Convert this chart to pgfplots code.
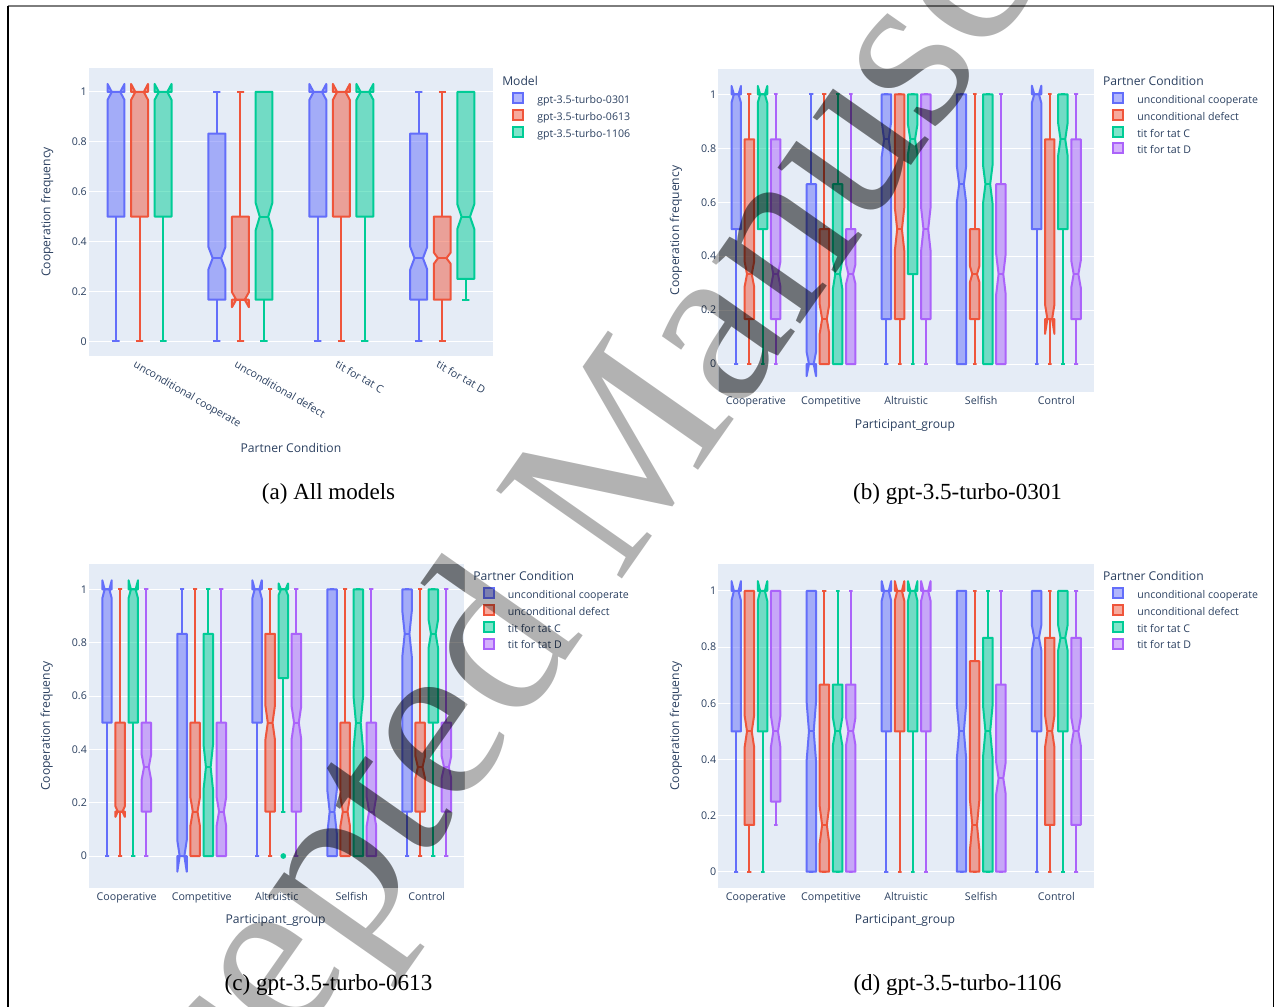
\documentclass[border=0pt]{standalone}
\usepackage{pgfplots}
\pgfplotsset{compat=1.18}
\usepackage{fontspec}
\setmainfont{Liberation Serif}
\newfontfamily\osans{Open Sans}

\definecolor{pblue}{HTML}{636EFA}
\definecolor{pred}{HTML}{EF553B}
\definecolor{pgreen}{HTML}{00CC96}
\definecolor{ppurple}{HTML}{AB63FA}
\definecolor{pbg}{HTML}{E5ECF6}
\definecolor{ptext}{HTML}{2A3F5F}

\def\bw{0.063}
% notched box: #1 x, #2 colour, #3 lower whisker, #4 q1, #5 median, #6 q3, #7 upper whisker, #8 notch half-span
\newcommand{\nbox}[8]{%
  \pgfmathsetmacro{\nbXc}{#1}%
  \pgfmathsetmacro{\nbXl}{\nbXc-\bw}%
  \pgfmathsetmacro{\nbXr}{\nbXc+\bw}%
  \pgfmathsetmacro{\nbXnl}{\nbXc-0.5*\bw}%
  \pgfmathsetmacro{\nbXnr}{\nbXc+0.5*\bw}%
  \pgfmathsetmacro{\nbXcl}{\nbXc-0.42*\bw}%
  \pgfmathsetmacro{\nbXcr}{\nbXc+0.42*\bw}%
  \pgfmathsetmacro{\nbNlo}{#5-#8}%
  \pgfmathsetmacro{\nbNhi}{#5+#8}%
  \edef\nbDo{%
    \noexpand\addplot[forget plot, draw=#2, fill=#2, fill opacity=0.5, line width=1.5pt, line join=round]
      coordinates {(\nbXl,#4) (\nbXl,\nbNlo) (\nbXnl,#5) (\nbXl,\nbNhi) (\nbXl,#6) (\nbXr,#6) (\nbXr,\nbNhi) (\nbXnr,#5) (\nbXr,\nbNlo) (\nbXr,#4)} -- cycle;
    \noexpand\addplot[forget plot, draw=#2, line width=1.5pt] coordinates {(\nbXnl,#5) (\nbXnr,#5)};
    \noexpand\addplot[forget plot, draw=#2, line width=1.5pt] coordinates {(\nbXcl,#3) (\nbXcr,#3) (\nbXc,#3) (\nbXc,#4)};
    \noexpand\addplot[forget plot, draw=#2, line width=1.5pt] coordinates {(\nbXcl,#7) (\nbXcr,#7) (\nbXc,#7) (\nbXc,#6)};
  }%
  \nbDo
}

\newcommand{\labfont}{\osans\fontsize{9.1}{11}\selectfont}
\pgfplotsset{
  legend image code/.code={\draw[#1, line width=1.5pt, fill opacity=0.5] (0pt,-2pt) rectangle (7.5pt,5.5pt);},
  pl/.style={
    scale only axis, clip=false,
    axis background/.style={fill=pbg},
    axis line style={draw=none},
    tick style={draw=none},
    ymajorgrids, grid style={white, line width=0.75pt},
    ytick={0,0.2,0.4,0.6,0.8,1},
    yticklabels={0,0.2,0.4,0.6,0.8,1},
    tick label style={font=\osans\fontsize{8}{9.6}\selectfont, text=ptext},
    yticklabel style={anchor=east, inner sep=0pt, xshift=-1.5pt},
    ylabel={Cooperation frequency},
    legend cell align=left,
    legend style={anchor=north west, draw=none, fill=none, inner sep=0pt, outer sep=0pt,
      row sep=2.6pt, column sep=9.6pt, font=\osans\fontsize{7.95}{9}\selectfont, text=ptext,
      nodes={inner sep=0pt}},
  },
  pg/.style={
    xmin=-0.5, xmax=4.5, xtick={0,1,2,3,4},
    xticklabels={Cooperative,Competitive,Altruistic,Selfish,Control},
    xticklabel style={anchor=base, inner sep=0pt, yshift=-9.2pt},
    xlabel={Participant\_group},
    every axis x label/.style={at={(axis description cs:0.497,-0.102)}, anchor=center, font=\labfont, text=ptext},
    every axis y label/.style={at={(axis description cs:-0.113,0.5)}, rotate=90, anchor=center, font=\labfont, text=ptext},
    legend style={at={(1.0495,0.929)}},
  },
}
\newcommand{\ttitle}[1]{\node[anchor=west, inner sep=0pt, font=\labfont, text=ptext] at (rel axis cs:1.0237,0.964) {#1};}
\newcommand{\pclegend}{%
  \addlegendimage{draw=pblue, fill=pblue}\addlegendentry{unconditional cooperate}
  \addlegendimage{draw=pred, fill=pred}\addlegendentry{unconditional defect}
  \addlegendimage{draw=pgreen, fill=pgreen}\addlegendentry{tit for tat C}
  \addlegendimage{draw=ppurple, fill=ppurple}\addlegendentry{tit for tat D}
  \ttitle{Partner Condition}}
\def\oa{-0.2625}\def\ob{-0.0875}\def\oc{0.0875}\def\od{0.2625}

\begin{document}
\begin{tikzpicture}
\path[use as bounding box] (0pt,0pt) rectangle (956.25pt,-755.25pt);

% ---------------- (a) All models
\def\bw{0.084}
\begin{axis}[pl, at={(66.83pt,-51pt)}, anchor=north west, width=302.7pt, height=215.8pt,
  xmin=-0.5, xmax=3.5, ymin=-0.058, ymax=1.096, xtick={0,1,2,3},
  xticklabels={unconditional cooperate, unconditional defect, tit for tat C, tit for tat D},
  xticklabel style={xshift=-2pt, yshift=-2.8pt, rotate=-30, anchor=north west, inner sep=0pt},
  xlabel={Partner Condition},
  every axis x label/.style={at={(axis description cs:0.5,-0.321)}, anchor=center, font=\labfont, text=ptext},
  every axis y label/.style={at={(axis description cs:-0.104,0.5)}, rotate=90, anchor=center, font=\labfont, text=ptext},
  legend style={at={(1.049,0.915)}}]
\nbox{0-0.2333}{pblue}{0}{0.5}{1}{1}{1}{0.032}
\nbox{1-0.2333}{pblue}{0}{0.1667}{0.3333}{0.8333}{1}{0.045}
\nbox{2-0.2333}{pblue}{0}{0.5}{1}{1}{1}{0.032}
\nbox{3-0.2333}{pblue}{0}{0.1667}{0.3333}{0.8333}{1}{0.045}
\nbox{0}{pred}{0}{0.5}{1}{1}{1}{0.032}
\nbox{1}{pred}{0}{0.1667}{0.1667}{0.5}{1}{0.03}
\nbox{2}{pred}{0}{0.5}{1}{1}{1}{0.032}
\nbox{3}{pred}{0}{0.1667}{0.3333}{0.5}{1}{0.023}
\nbox{0+0.2333}{pgreen}{0}{0.5}{1}{1}{1}{0.032}
\nbox{1+0.2333}{pgreen}{0}{0.1667}{0.5}{1}{1}{0.057}
\nbox{2+0.2333}{pgreen}{0}{0.5}{1}{1}{1}{0.032}
\nbox{3+0.2333}{pgreen}{0.1667}{0.25}{0.5}{1}{1}{0.05}
\addlegendimage{draw=pblue, fill=pblue}\addlegendentry{gpt-3.5-turbo-0301}
\addlegendimage{draw=pred, fill=pred}\addlegendentry{gpt-3.5-turbo-0613}
\addlegendimage{draw=pgreen, fill=pgreen}\addlegendentry{gpt-3.5-turbo-1106}
\node[anchor=west, inner sep=0pt, font=\labfont, text=ptext] at (rel axis cs:1.023,0.956) {Model};
\end{axis}

% ---------------- (b) gpt-3.5-turbo-0301
\def\bw{0.063}
\begin{axis}[pl, pg, at={(538.8pt,-51.75pt)}, anchor=north west, width=281.6pt, height=242.5pt,
  ymin=-0.105, ymax=1.094]
\nbox{0+\oa}{pblue}{0}{0.5}{1}{1}{1}{0.031}
\nbox{1+\oa}{pblue}{0}{0}{0}{0.6667}{1}{0.045}
\nbox{2+\oa}{pblue}{0}{0.1667}{0.8333}{1}{1}{0.065}
\nbox{3+\oa}{pblue}{0}{0}{0.6667}{1}{1}{0.07}
\nbox{4+\oa}{pblue}{0}{0.5}{1}{1}{1}{0.032}
\nbox{0+\ob}{pred}{0}{0.1667}{0.3333}{0.8333}{1}{0.046}
\nbox{1+\ob}{pred}{0}{0}{0.1667}{0.5}{1}{0.053}
\nbox{2+\ob}{pred}{0}{0.1667}{0.5}{1}{1}{0.08}
\nbox{3+\ob}{pred}{0}{0.1667}{0.3333}{0.5}{1}{0.03}
\nbox{4+\ob}{pred}{0}{0.1667}{0.1667}{0.8333}{1}{0.055}
\nbox{0+\oc}{pgreen}{0}{0.5}{1}{1}{1}{0.031}
\nbox{1+\oc}{pgreen}{0}{0}{0.3333}{0.6667}{1}{0.055}
\nbox{2+\oc}{pgreen}{0}{0.3333}{0.8333}{1}{1}{0.055}
\nbox{3+\oc}{pgreen}{0}{0}{0.6667}{1}{1}{0.07}
\nbox{4+\oc}{pgreen}{0}{0.5}{0.8333}{1}{1}{0.06}
\nbox{0+\od}{ppurple}{0}{0.1667}{0.3333}{0.8333}{1}{0.046}
\nbox{1+\od}{ppurple}{0}{0}{0.3333}{0.5}{1}{0.037}
\nbox{2+\od}{ppurple}{0}{0.1667}{0.5}{1}{1}{0.08}
\nbox{3+\od}{ppurple}{0}{0}{0.3333}{0.6667}{1}{0.074}
\nbox{4+\od}{ppurple}{0}{0.1667}{0.3333}{0.8333}{1}{0.05}
\pclegend
\end{axis}

% ---------------- (c) gpt-3.5-turbo-0613
\begin{axis}[pl, pg, at={(66.9pt,-423pt)}, anchor=north west, width=281.3pt, height=242.8pt,
  ymin=-0.119, ymax=1.095, legend style={at={(1.0504,0.929)}}]
\nbox{0+\oa}{pblue}{0}{0.5}{1}{1}{1}{0.034}
\nbox{1+\oa}{pblue}{0}{0}{0}{0.8333}{1}{0.059}
\nbox{2+\oa}{pblue}{0}{0.5}{1}{1}{1}{0.034}
\nbox{3+\oa}{pblue}{0}{0}{0.1667}{1}{1}{0.08}
\nbox{4+\oa}{pblue}{0}{0.1667}{0.8333}{1}{1}{0.085}
\nbox{0+\ob}{pred}{0}{0.1667}{0.1667}{0.5}{1}{0.02}
\nbox{1+\ob}{pred}{0}{0}{0.1667}{0.5}{1}{0.053}
\nbox{2+\ob}{pred}{0}{0.1667}{0.5}{0.8333}{1}{0.063}
\nbox{3+\ob}{pred}{0}{0}{0.1667}{0.5}{1}{0.053}
\nbox{4+\ob}{pred}{0}{0.1667}{0.3333}{0.5}{1}{0.04}
\nbox{0+\oc}{pgreen}{0}{0.5}{1}{1}{1}{0.034}
\nbox{1+\oc}{pgreen}{0}{0}{0.3333}{0.8333}{1}{0.084}
\nbox{2+\oc}{pgreen}{0.1667}{0.6667}{1}{1}{1}{0.022}
\nbox{3+\oc}{pgreen}{0}{0}{0.5}{1}{1}{0.097}
\nbox{4+\oc}{pgreen}{0}{0.5}{0.8333}{1}{1}{0.053}
\addplot[forget plot, only marks, mark=*, mark size=1.9pt, color=pgreen] coordinates {(2.0875,0)};
\nbox{0+\od}{ppurple}{0}{0.1667}{0.3333}{0.5}{1}{0.047}
\nbox{1+\od}{ppurple}{0}{0}{0.1667}{0.5}{1}{0.053}
\nbox{2+\od}{ppurple}{0}{0.1667}{0.5}{0.8333}{1}{0.06}
\nbox{3+\od}{ppurple}{0}{0}{0.1667}{0.5}{1}{0.053}
\nbox{4+\od}{ppurple}{0}{0.1667}{0.3333}{0.5}{1}{0.04}
\pclegend
\end{axis}

% ---------------- (d) gpt-3.5-turbo-1106
\begin{axis}[pl, pg, at={(538.8pt,-423pt)}, anchor=north west, width=281.6pt, height=242.8pt,
  ymin=-0.057, ymax=1.096]
\nbox{0+\oa}{pblue}{0}{0.5}{1}{1}{1}{0.035}
\nbox{1+\oa}{pblue}{0}{0}{0.5}{1}{1}{0.106}
\nbox{2+\oa}{pblue}{0}{0.5}{1}{1}{1}{0.035}
\nbox{3+\oa}{pblue}{0}{0}{0.5}{1}{1}{0.1}
\nbox{4+\oa}{pblue}{0}{0.5}{0.8333}{1}{1}{0.045}
\nbox{0+\ob}{pred}{0}{0.1667}{0.5}{1}{1}{0.056}
\nbox{1+\ob}{pred}{0}{0}{0.1667}{0.6667}{1}{0.065}
\nbox{2+\ob}{pred}{0}{0.5}{1}{1}{1}{0.035}
\nbox{3+\ob}{pred}{0}{0}{0.1667}{0.75}{1}{0.09}
\nbox{4+\ob}{pred}{0}{0.1667}{0.5}{0.8333}{1}{0.058}
\nbox{0+\oc}{pgreen}{0}{0.5}{1}{1}{1}{0.035}
\nbox{1+\oc}{pgreen}{0}{0}{0.5}{0.6667}{1}{0.05}
\nbox{2+\oc}{pgreen}{0}{0.5}{1}{1}{1}{0.035}
\nbox{3+\oc}{pgreen}{0}{0}{0.5}{0.8333}{1}{0.09}
\nbox{4+\oc}{pgreen}{0}{0.5}{0.8333}{1}{1}{0.045}
\nbox{0+\od}{ppurple}{0.1667}{0.25}{0.5}{1}{1}{0.056}
\nbox{1+\od}{ppurple}{0}{0}{0.5}{0.6667}{1}{0.05}
\nbox{2+\od}{ppurple}{0}{0.5}{1}{1}{1}{0.035}
\nbox{3+\od}{ppurple}{0}{0}{0.3333}{0.6667}{1}{0.056}
\nbox{4+\od}{ppurple}{0}{0.1667}{0.5}{0.8333}{1}{0.05}
\pclegend
\end{axis}

\begin{scope}[x=0.75pt,y=-0.75pt]
% page frame
\draw[color={rgb,255:red,125;green,125;blue,125}, line width=1.5pt] (7.5,5.8) -- (1273.8,5.8);
\draw[black, line width=1pt] (8,5.8) -- (8,1007);
\draw[black, line width=1pt] (1273.3,5.8) -- (1273.3,1007);
% watermark
\node[rotate=55, anchor=base west, inner sep=0pt, text=black, opacity=0.3,
  font=\fontsize{176}{176}\selectfont] at (76,1359) {Accepted Manuscript};
\begin{scope}
\clip (89.1,68) rectangle (492.7,355.7) (718.4,69) rectangle (1093.9,392.3)
      (89.2,564) rectangle (464.3,887.7) (718.4,564) rectangle (1093.9,887.7);
\node[rotate=55, anchor=base west, inner sep=0pt, text=black, opacity=0.3,
  font=\fontsize{176}{176}\selectfont] at (76,1359) {Accepted Manuscript};
\end{scope}
% captions
\node[anchor=base, inner sep=0pt, font=\fontsize{17.3}{20}\selectfont] at (328.5,499.3) {(a) All models};
\node[anchor=base, inner sep=0pt, font=\fontsize{17.3}{20}\selectfont] at (957.5,499.3) {(b) gpt-3.5-turbo-0301};
\node[anchor=base, inner sep=0pt, font=\fontsize{17.3}{20}\selectfont] at (328.5,990) {(c) gpt-3.5-turbo-0613};
\node[anchor=base, inner sep=0pt, font=\fontsize{17.3}{20}\selectfont] at (957.5,990) {(d) gpt-3.5-turbo-1106};
\end{scope}
\end{tikzpicture}
\end{document}
